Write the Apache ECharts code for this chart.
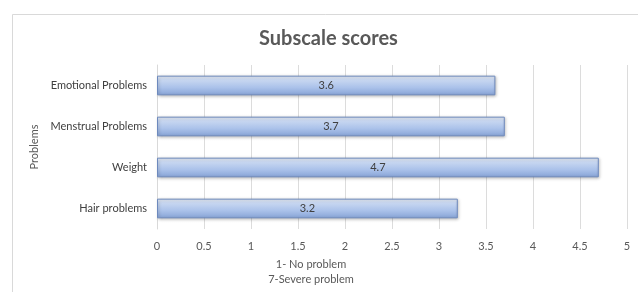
<!DOCTYPE html>
<html><head><meta charset="utf-8">
<script src="https://cdn.jsdelivr.net/npm/echarts@6/dist/echarts.min.js"></script>
<style>html,body{margin:0;padding:0;background:#fff}#c{width:638px;height:292px}</style>
</head><body><div id="c"></div>
<script>
const categories = ["Hair problems", "Weight", "Menstrual Problems", "Emotional Problems"];
const scores = [3.2, 4.7, 3.7, 3.6];
const xTicks = [0, 0.5, 1, 1.5, 2, 2.5, 3, 3.5, 4, 4.5, 5];

const chart = echarts.init(document.getElementById('c'), null, {renderer: 'canvas'});
const font = 'Lato, "Open Sans", sans-serif';
chart.setOption({
  animation: false,
  backgroundColor: '#fff',
  graphic: [{type: 'rect', left: 10, top: 12, shape: {width: 700, height: 400}, style: {fill: 'none', stroke: '#d9d9d9', lineWidth: 1}, silent: true}],
  title: {text: 'Subscale scores', left: 254, top: 24, padding: 5, textStyle: {fontFamily: font, fontSize: 20, fontWeight: 'bold', color: '#595959'}},
  grid: {left: 157, right: 11, top: 65, bottom: 63},
  xAxis: {type: 'value', min: 0, max: 5, interval: 0.5,
    name: '1- No problem\n7-Severe problem', nameLocation: 'middle', nameGap: 26,
    nameTextStyle: {fontFamily: font, fontSize: 11, color: '#595959', lineHeight: 15, padding: [0, 162, 0, 0]},
    axisLine: {show: false}, axisTick: {show: false},
    axisLabel: {fontFamily: font, fontSize: 11, color: '#595959', margin: 12, formatter: v => xTicks.includes(v) ? String(v) : ''},
    splitLine: {show: true, lineStyle: {color: '#dcdcdc', width: 1}}},
  yAxis: {type: 'category', data: categories,
    name: 'Problems', nameLocation: 'middle', nameGap: 117, nameRotate: 90,
    nameTextStyle: {fontFamily: font, fontSize: 11, color: '#595959'},
    axisLine: {show: true, lineStyle: {color: '#d9d9d9'}}, axisTick: {show: false},
    axisLabel: {fontFamily: font, fontSize: 11, color: '#404040', margin: 10}},
  series: [{type: 'bar', data: scores, barCategoryGap: '52%',
    itemStyle: {color: new echarts.graphic.LinearGradient(0, 0, 0, 1, [
      {offset: 0, color: '#eef3fb'}, {offset: 0.2, color: '#c9d8f1'}, {offset: 0.6, color: '#abc2ea'}, {offset: 1, color: '#86a3d6'}]),
      borderColor: '#6d89bd', borderWidth: 1,
      shadowColor: 'rgba(0,0,0,0.25)', shadowBlur: 3, shadowOffsetX: 1, shadowOffsetY: 1},
    label: {show: true, position: 'inside', fontFamily: font, fontSize: 11, color: '#404040'}}]
});
</script></body></html>
